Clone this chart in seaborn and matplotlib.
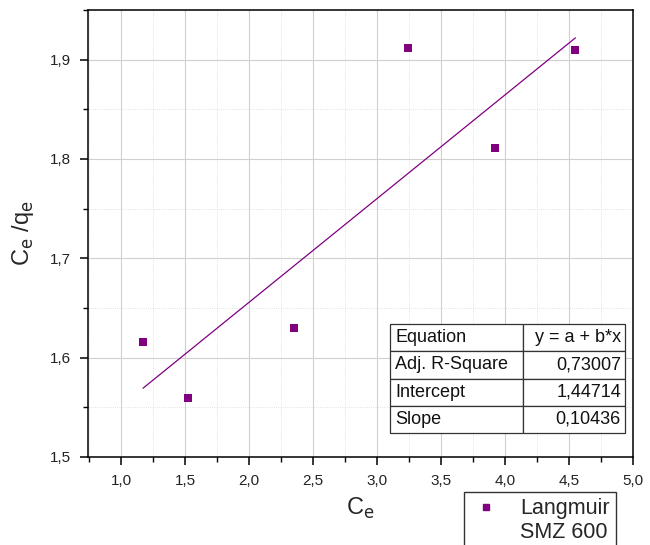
import matplotlib
matplotlib.use("Agg")
import matplotlib.pyplot as plt
import seaborn as sns
import numpy as np
import pandas as pd
from matplotlib.ticker import MultipleLocator, FuncFormatter
from matplotlib.lines import Line2D

ce = [1.17, 1.52, 2.35, 3.24, 3.92, 4.55]
ce_qe = [1.616, 1.559, 1.630, 1.912, 1.811, 1.910]
intercept = 1.44714
slope = 0.10436
table_rows = [["Equation", "y = a + b*x"],
              ["Adj. R-Square", "0,73007"],
              ["Intercept", "1,44714"],
              ["Slope", "0,10436"]]
legend_lines = ["Langmuir", "SMZ 600"]

sns.set_theme(style="white")
plt.rcParams['font.family'] = ['Liberation Sans', 'DejaVu Sans']

color = "#800080"
fig = plt.figure(figsize=(6.5, 5.45), dpi=100)
ax = fig.add_axes([88/650, 1-457/545, (633-88)/650, (457-10)/545])

df = pd.DataFrame({"Ce": ce, "Ce_qe": ce_qe})
fit_x = [min(ce), max(ce)]
fit = pd.DataFrame({"x": fit_x, "y": [intercept + slope * v for v in fit_x]})

ax.grid(True, which="major", color="#d0d0d0", linewidth=0.8, zorder=0)
ax.grid(True, which="minor", color="#d8d8d8", linewidth=0.6, linestyle=":", zorder=0)
ax.set_axisbelow(True)

sns.lineplot(data=fit, x="x", y="y", ax=ax, color=color, linewidth=0.9, legend=False)
sns.scatterplot(data=df, x="Ce", y="Ce_qe", ax=ax, color=color, marker="s", s=28,
                edgecolor=color, linewidth=0, legend=False, zorder=3)

ax.set_xlim(0.74, 5.0)
ax.set_ylim(1.5, 1.95)
ax.xaxis.set_major_locator(MultipleLocator(0.5))
ax.xaxis.set_minor_locator(MultipleLocator(0.25))
ax.yaxis.set_major_locator(MultipleLocator(0.1))
ax.yaxis.set_minor_locator(MultipleLocator(0.05))
fmt = FuncFormatter(lambda v, p: f"{v:.1f}".replace(".", ","))
ax.xaxis.set_major_formatter(fmt)
ax.yaxis.set_major_formatter(fmt)
ax.tick_params(which="major", direction="out", length=6, width=1.1, color="black",
               labelsize=11, labelcolor="#222222", bottom=True, left=True, pad=6)
ax.tick_params(which="minor", direction="out", length=3.5, width=1.0, color="black",
               bottom=True, left=True)
for sp in ax.spines.values():
    sp.set_color("black")
    sp.set_linewidth(1.1)

ax.set_xlabel(r"C$_{\rm e}$", fontsize=17, labelpad=6)
ax.set_ylabel(r"C$_{\rm e}$ /q$_{\rm e}$", fontsize=17, labelpad=10)

# fit table
bx0, by0 = (390-88)/545, (457-433)/447
bw, bh = (625-390)/545, (433-324)/447
tab = ax.table(cellText=table_rows, bbox=[bx0, by0, bw, bh], cellLoc="left",
               colWidths=[(523-390)/235, (625-523)/235], zorder=5)
tab.auto_set_font_size(False)
tab.set_fontsize(13)
for (r, c), cell in tab.get_celld().items():
    cell.set_edgecolor("#333333")
    cell.set_linewidth(0.9)
    cell.set_facecolor("white")
    cell.PAD = 0.04
    cell.get_text().set_color("#111111")
    if c == 1:
        cell.get_text().set_ha("right")
        cell._loc = "right"

handles = [Line2D([], [], marker="s", color=color, linestyle="none", markersize=5),
           Line2D([], [], linestyle="none")]
leg = fig.legend(handles, legend_lines, loc="upper left",
                 bbox_to_anchor=(464/650, 1-492/545), fontsize=15.5,
                 frameon=True, fancybox=False, edgecolor="black",
                 handletextpad=0.9, handlelength=1.4, labelspacing=0.1,
                 borderpad=0.3, borderaxespad=0)
leg.get_frame().set_linewidth(1.0)

fig.savefig("out.png", dpi=100)
